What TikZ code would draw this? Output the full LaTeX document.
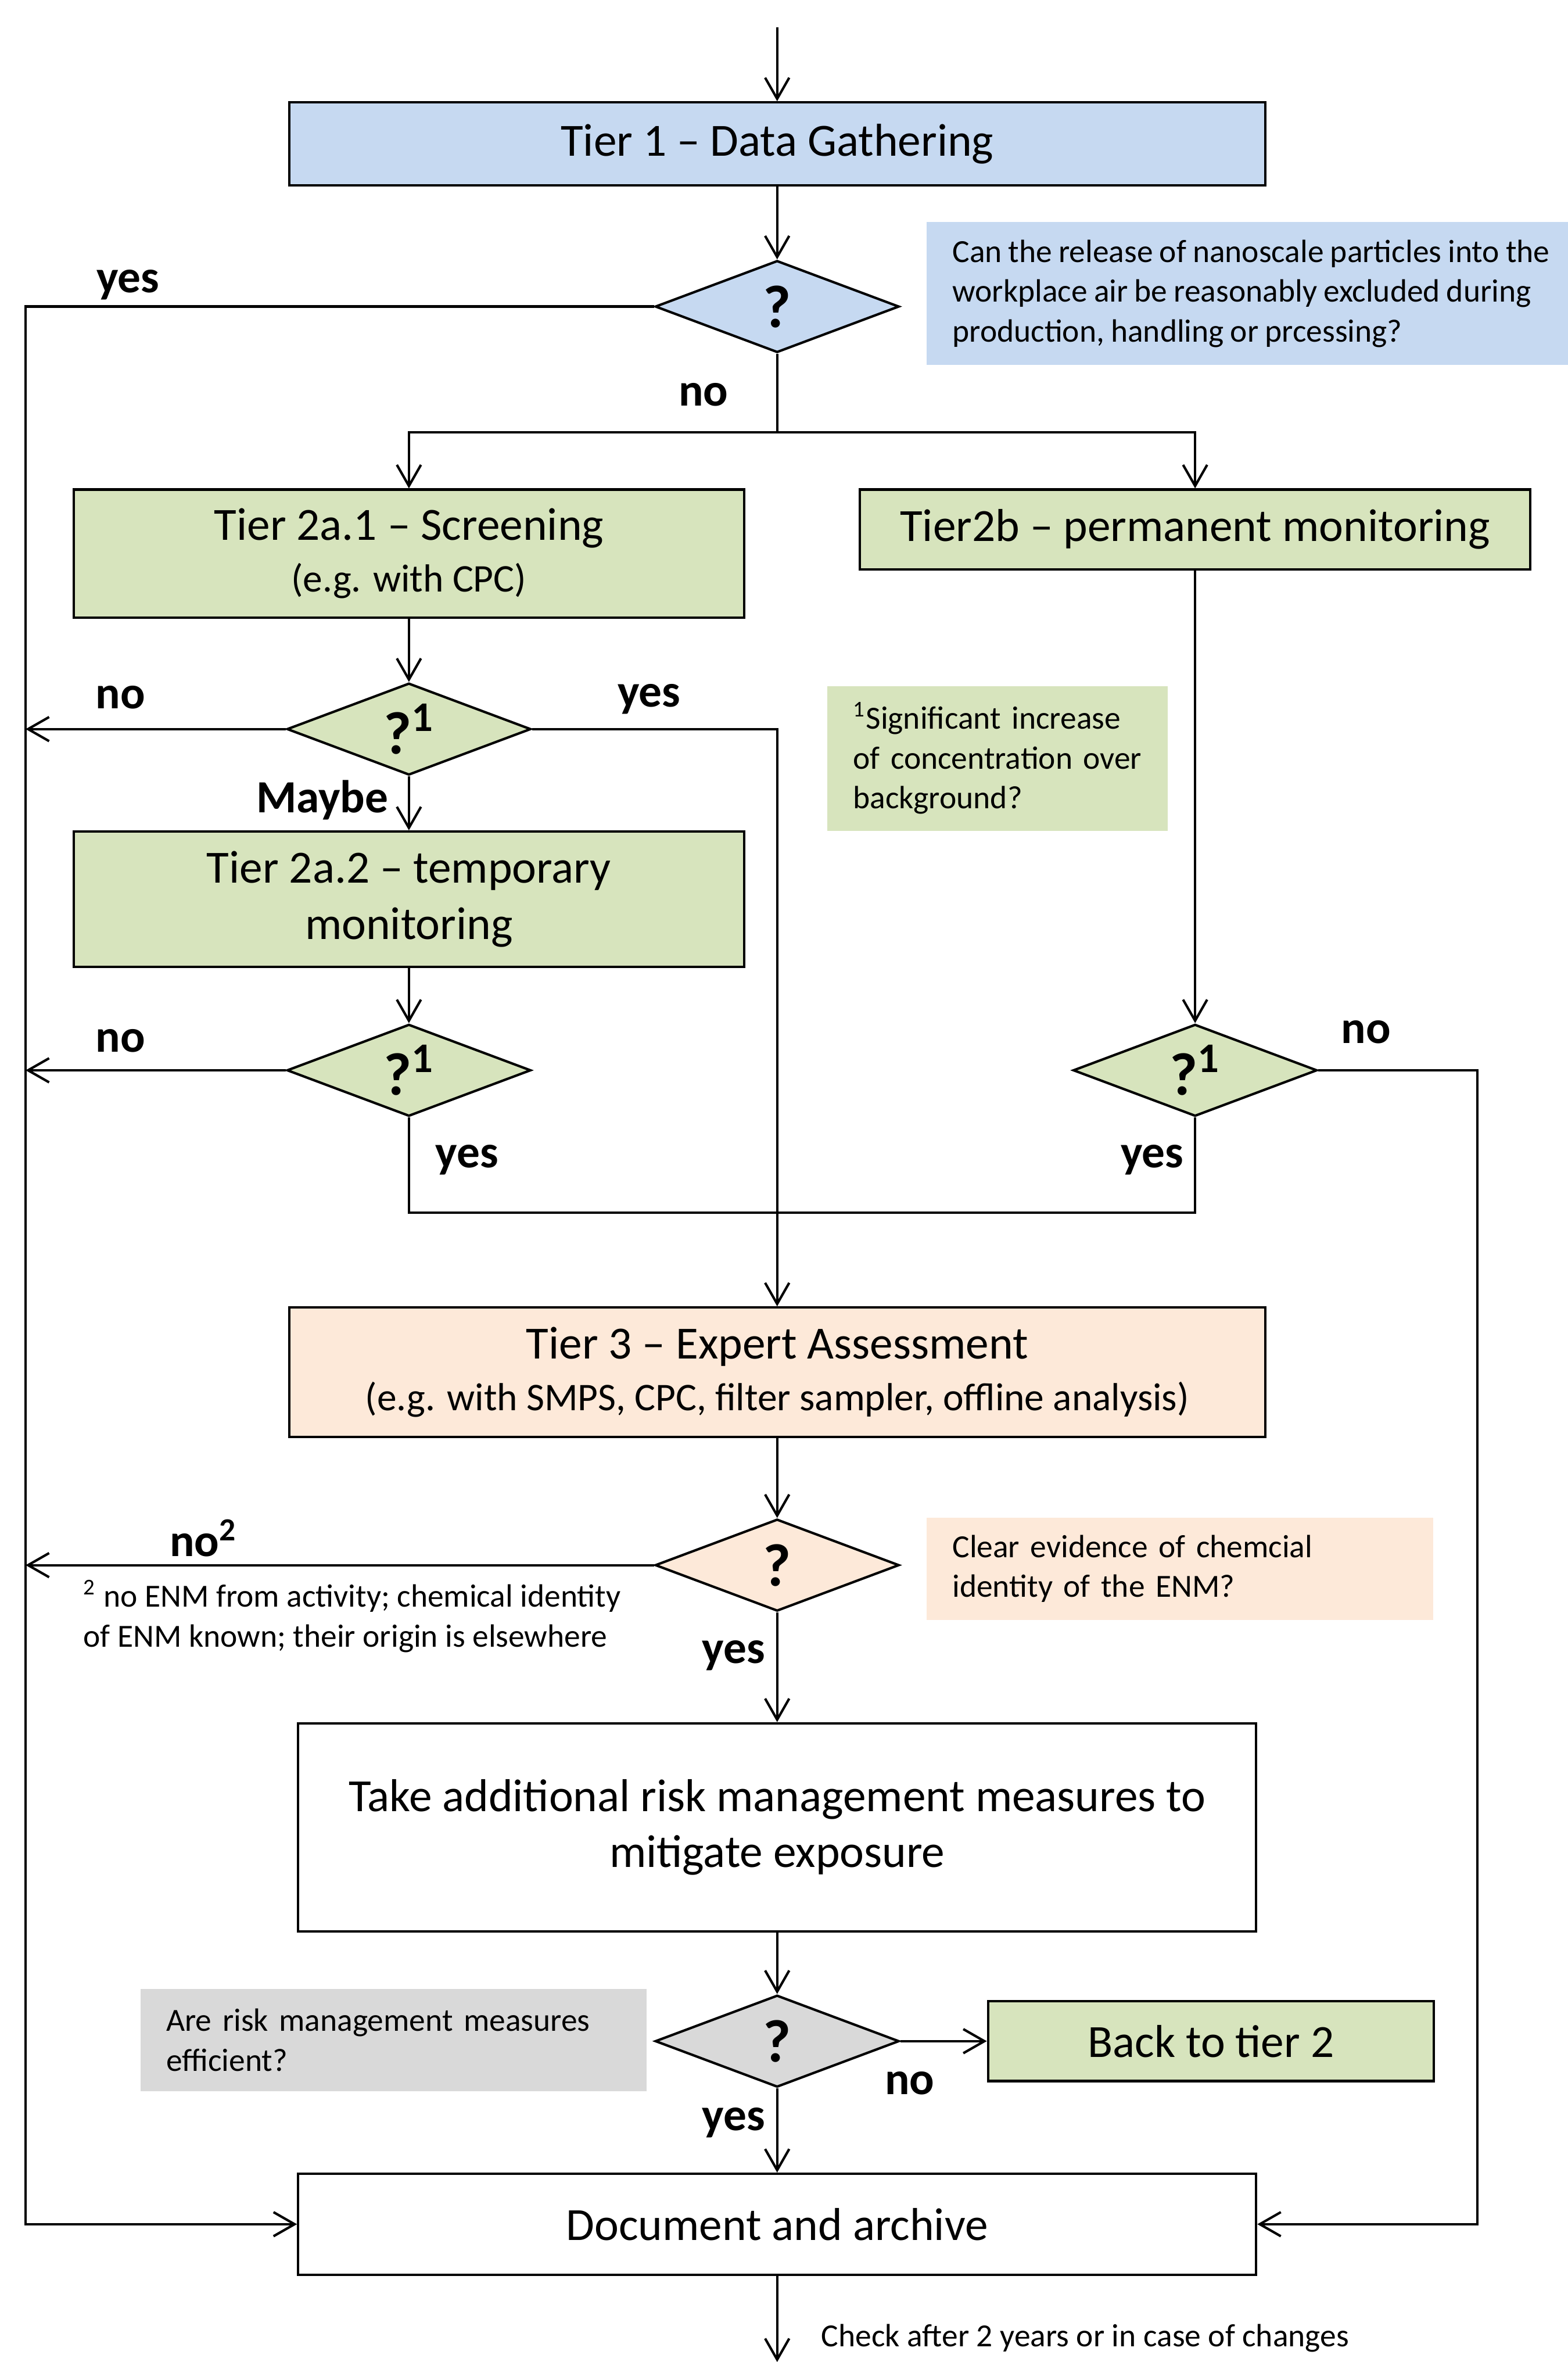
\documentclass[tikz,border=0pt]{standalone}
\usepackage{fontspec}
\setmainfont{Carlito}
\usetikzlibrary{shapes.geometric,arrows.meta}

\definecolor{tierblue}{RGB}{198,217,241}
\definecolor{tiergreen}{RGB}{215,228,189}
\definecolor{tierpeach}{RGB}{253,233,217}
\definecolor{tiergrey}{RGB}{217,217,217}

\newcommand{\bigtxt}{\fontsize{15.3}{18.6}\selectfont}
\newcommand{\midtxt}{\fontsize{13}{16}\selectfont}
\newcommand{\smalltxt}{\fontsize{10.7}{13.25}\selectfont}
\newcommand{\asktxt}{\fontsize{20}{20}\selectfont\bfseries}
\newcommand{\tightwords}{\spaceskip=0.2em\relax}

\tikzset{
  tier/.style={draw, line width=0.8pt, align=center, font=\bigtxt, inner sep=0pt},
  decision/.style={diamond, draw, line width=0.8pt, aspect=2.65, inner sep=0pt,
    minimum width=81pt, minimum height=30.5pt, font=\asktxt},
  remark/.style={anchor=north west, align=left, font=\smalltxt, inner xsep=8.5pt, inner ysep=0pt},
  answer/.style={font=\bigtxt\bfseries, inner sep=0pt},
  flow/.style={-{Straight Barb[length=7pt,width=8pt]}, line width=0.8pt},
  wire/.style={line width=0.8pt}
}

\begin{document}
\begin{tikzpicture}[x=0.5pt,y=-0.5pt]
  \useasboundingbox (0,0) rectangle (1041,1568);

  \node[tier, fill=tierblue, minimum width=324pt, minimum height=27.5pt] (t1) at (516,95.5) {Tier 1 -- Data Gathering};
  \node[decision, fill=tierblue] (d1) at (516,203.5) {?};
  \node[remark, fill=tierblue, text width=212pt, minimum height=47.5pt] (n1) at (615,147)
    {\tightwords Can the release of nanoscale particles into the\\workplace air be reasonably excluded during\\production, handling or prcessing?};

  \node[tier, fill=tiergreen, minimum width=222.5pt, minimum height=42.5pt] (t2a1) at (271.5,367.5)
    {Tier 2a.1 -- Screening\\[-1.5pt]{\midtxt (e.g. with CPC)}};
  \node[tier, fill=tiergreen, minimum width=222.5pt, minimum height=26.5pt] (t2b) at (793.5,351.5)
    {Tier2b -- permanent monitoring};
  \node[decision, fill=tiergreen] (d2) at (271.5,484) {?\textsuperscript{1}};
  \node[remark, fill=tiergreen, text width=96pt, minimum height=48pt] (n2) at (549,455)
    {\textsuperscript{1}Significant increase\\of concentration over\\background?};
  \node[tier, fill=tiergreen, minimum width=222.5pt, minimum height=45pt] (t2a2) at (271.5,597)
    {Tier 2a.2 -- temporary\\monitoring};
  \node[decision, fill=tiergreen] (d3) at (271.5,710.5) {?\textsuperscript{1}};
  \node[decision, fill=tiergreen] (d4) at (793.5,710.5) {?\textsuperscript{1}};

  \node[tier, fill=tierpeach, minimum width=324pt, minimum height=43pt] (t3) at (516,911)
    {Tier 3 -- Expert Assessment\\[-1.5pt]{\midtxt (e.g. with SMPS, CPC, filter sampler, offline analysis)}};
  \node[decision, fill=tierpeach] (d5) at (516,1039) {?};
  \node[remark, fill=tierpeach, text width=151pt, minimum height=34pt] (n5) at (615,1007)
    {Clear evidence of chemcial\\identity of the ENM?};
  \node[anchor=west, align=left, font=\smalltxt, inner sep=0pt] (fn2) at (55,1073)
    {\textsuperscript{2} no ENM from activity; chemical identity\\of ENM known; their origin is elsewhere};

  \node[tier, minimum width=318pt, minimum height=69pt] (rmm) at (516,1213)
    {Take additional risk management measures to\\mitigate exposure};
  \node[decision, fill=tiergrey] (d6) at (516,1355) {?};
  \node[remark, fill=tiergrey, text width=151pt, minimum height=34pt] (n6) at (93,1320)
    {Are risk management measures\\efficient?};
  \node[tier, fill=tiergreen, minimum width=148pt, minimum height=26.5pt] (back) at (804,1355) {Back to tier 2};
  \node[tier, minimum width=318pt, minimum height=33.5pt] (doc) at (516,1476.5) {Document and archive};

  % answers
  \node[answer] (y1) at (85,189) {yes};
  \node[answer] (n1a) at (467,262) {no};
  \node[answer] (n2a) at (80,463) {no};
  \node[answer] (y2) at (431,464) {yes};
  \node[answer] (mb) at (214,531) {Maybe};
  \node[answer] (n3a) at (80,691) {no};
  \node[answer] (y3) at (310,770) {yes};
  \node[answer] (n4a) at (907,685) {no};
  \node[answer] (y4) at (765,770) {yes};
  \node[answer] (n5a) at (135,1021) {no\textsuperscript{2}};
  \node[answer] (y5) at (487,1099) {yes};
  \node[answer] (n6a) at (604,1383) {no};
  \node[answer] (y6) at (487,1409) {yes};
  \node[anchor=west, font=\smalltxt, inner sep=0pt] (chk) at (545,1552) {Check after 2 years or in case of changes};

  \coordinate (in) at (516,18);
  \coordinate (out) at (516,1568);
  \coordinate (lrail) at (17,203.5);
  \coordinate (rrail) at (981,710.5);
  \coordinate (split) at (516,287);
  \coordinate (join) at (516,805);

  \path[flow]
    (in) edge (t1)
    (t1) edge (d1)
    (t2a1) edge (d2)
    (d2) edge (t2a2)
    (t2a2) edge (d3)
    (t2b) edge (d4)
    (t3) edge (d5)
    (d5) edge (rmm)
    (rmm) edge (d6)
    (d6) edge (back)
    (d6) edge (doc)
    (doc.south) edge (out);
  \draw[flow] (d1.west) -- (lrail) |- (doc.west);
  \draw[flow] (d4.east) -- (rrail) |- (doc.east);
  \draw[flow] (d1.south) -- (split) -| (t2a1.north);
  \draw[flow] (split) -| (t2b.north);
  \draw[flow] (d2.west) -- (d2.west -| lrail);
  \draw[flow] (d3.west) -- (d3.west -| lrail);
  \draw[flow] (d5.west) -- (d5.west -| lrail);
  \draw[wire] (d2.east) -| (join);
  \draw[wire] (d3.south) |- (join);
  \draw[wire] (d4.south) |- (join);
  \draw[flow] (join) -- (t3.north);
\end{tikzpicture}
\end{document}
